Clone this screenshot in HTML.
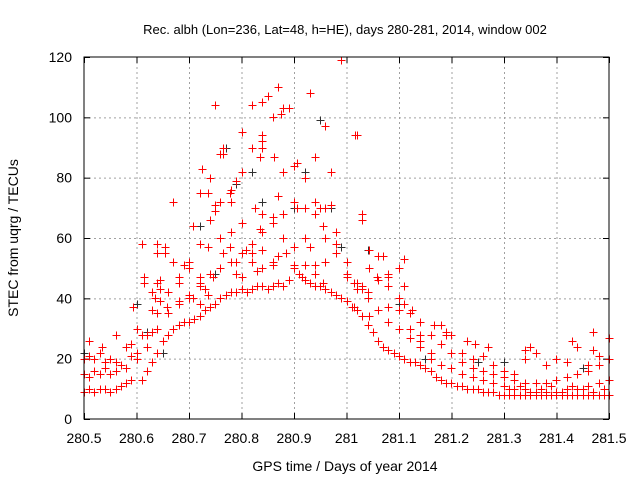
<!DOCTYPE html>
<html><head><meta charset="utf-8"><style>
body{margin:0;background:#fff;}
svg{display:block;font-family:"Liberation Sans",sans-serif;}
</style></head><body>
<svg id="chart" width="640" height="480" viewBox="0 0 640 480">
<rect width="640" height="480" fill="#fff"/>
<g id="grid"></g>
<g id="ticks"></g>
<g id="blackpts"></g>
<g id="redpts"></g>
<rect x="84" y="57" width="525" height="362" fill="none" stroke="#000" stroke-width="1"/>
<text x="345" y="34" text-anchor="middle" font-size="13" fill="#000">Rec. albh (Lon=236, Lat=48, h=HE), days 280-281, 2014, window 002</text>
<text x="345" y="471" text-anchor="middle" font-size="14" fill="#000">GPS time / Days of year 2014</text>
<text transform="translate(18,238) rotate(-90)" text-anchor="middle" font-size="14" fill="#000">STEC from uqrg / TECUs</text>
</svg>
<script>
const xTicks=[280.5,280.6,280.7,280.8,280.9,281,281.1,281.2,281.3,281.4,281.5];
const xTickLabels=["280.5","280.6","280.7","280.8","280.9","281","281.1","281.2","281.3","281.4","281.5"];
const yTicks=[0,20,40,60,80,100,120];
const yTickLabels=["0","20","40","60","80","100","120"];
const trackA=[[280.5,9],[280.51,10],[280.52,9],[280.53,10],[280.54,10],[280.55,9],[280.56,10],[280.57,11],[280.58,12],[280.59,13],[280.61,13],[280.62,16],[280.63,19],[280.64,22],[280.65,26],[280.66,28],[280.67,30],[280.68,31],[280.69,32],[280.7,32],[280.71,33],[280.72,34],[280.73,36],[280.74,37],[280.75,38],[280.76,40],[280.77,41],[280.78,42],[280.79,42],[280.8,43],[280.81,42],[280.82,43],[280.83,44],[280.84,44],[280.85,43],[280.86,44],[280.87,45],[280.88,44],[280.89,46],[280.9,50],[280.91,48],[280.92,46],[280.93,45],[280.94,44],[280.95,44],[280.96,43],[280.97,42],[280.98,41],[280.99,40],[281,39],[281.01,37],[281.02,36],[281.03,34],[281.04,31],[281.05,29],[281.06,26],[281.07,24],[281.08,23],[281.09,22],[281.1,21],[281.11,20],[281.12,19],[281.13,19],[281.14,18],[281.15,17],[281.16,16],[281.17,14],[281.18,13],[281.19,12],[281.2,12],[281.21,11],[281.22,11],[281.23,10],[281.24,10],[281.25,10],[281.26,9],[281.27,9],[281.28,9],[281.29,8],[281.3,8],[281.31,8],[281.32,8],[281.33,8],[281.34,8],[281.35,8],[281.36,8],[281.37,8],[281.38,8],[281.39,8],[281.4,8],[281.41,8],[281.42,8],[281.43,8],[281.44,8],[281.45,8],[281.46,8],[281.47,8],[281.48,8],[281.49,8],[281.5,8]];
const trackB=[[280.5,15],[280.51,14],[280.52,16],[280.53,15],[280.54,17],[280.55,15],[280.56,16],[280.57,18],[280.58,17],[280.6,20],[280.62,24],[280.64,30],[280.66,35],[280.68,38],[280.7,40],[280.72,44],[280.74,48],[280.76,50],[280.78,52],[280.8,55],[280.82,58],[280.84,62],[280.86,65],[280.88,68],[280.9,72],[280.92,70],[280.94,68],[280.96,60],[280.98,55],[281,47],[281.02,43],[281.04,40],[281.06,36],[281.08,32],[281.1,30],[281.12,27],[281.14,24],[281.16,20],[281.18,18],[281.2,17],[281.22,15],[281.24,14],[281.26,13],[281.28,12],[281.3,11],[281.32,10],[281.34,10],[281.36,9],[281.38,9],[281.4,9],[281.42,10],[281.44,10],[281.46,11],[281.48,12],[281.5,13]];
const trackC=[[280.5,20],[280.51,21],[280.52,20],[280.53,22],[280.54,19],[280.55,20],[280.56,19],[280.57,18],[280.59,21],[280.6,22],[280.62,28],[280.64,35],[280.66,42],[280.68,47],[280.7,52],[280.72,58],[280.74,66],[280.76,72],[280.78,76],[280.8,82],[280.82,90],[280.84,94],[280.86,100],[280.88,103],[280.9,84],[280.92,80],[280.94,72],[280.96,70],[280.98,62],[281,48],[281.02,45],[281.04,42],[281.06,46],[281.08,44],[281.1,40],[281.12,35],[281.14,32],[281.16,28],[281.18,25],[281.2,22],[281.22,19],[281.24,17],[281.26,16],[281.28,15],[281.3,14],[281.32,13],[281.34,12],[281.36,12],[281.38,12],[281.4,13],[281.42,14],[281.44,15],[281.46,16],[281.48,18],[281.5,20]];
const trackD=[[280.72,75],[280.74,80],[280.75,104],[280.76,88],[280.78,72],[280.8,95],[280.82,104],[280.84,105],[280.85,107],[280.87,110],[280.89,103],[280.93,108],[280.96,97],[280.99,119],[281.02,94],[280.97,82],[280.95,70],[280.92,60],[280.87,74],[280.84,68],[280.8,65],[280.78,62],[280.76,60],[280.51,26],[280.535,24],[280.56,28],[280.58,24],[280.59,25],[280.6,30],[280.61,28],[280.63,29],[280.615,47],[280.635,40],[280.655,55],[280.655,57],[280.64,45]];
const trackE=[[280.67,72],[280.7,50],[280.73,43],[280.79,48],[280.82,55],[280.84,50],[280.86,52],[280.88,60],[280.9,57],[280.92,51],[280.94,48],[280.96,52],[280.98,58],[281,52],[281.03,44],[281.06,54],[281.08,48],[281.1,36],[281.12,30],[281.14,26],[281.16,22],[281.18,31],[281.2,28],[281.22,22],[281.24,20],[281.26,21],[281.28,18],[281.3,16],[281.32,15],[281.34,20],[281.36,22],[281.38,18],[281.4,20],[281.42,19],[281.44,24],[281.46,18],[281.48,21],[281.5,27],[281.31,10],[281.33,11],[281.35,9],[281.37,10],[281.39,11],[281.41,9],[281.43,11],[281.45,10],[281.47,9],[281.49,10]];
const trackF=[[280.724,83],[280.765,90],[280.765,88],[280.736,75],[280.75,71],[280.75,69],[280.778,75],[280.79,79],[280.835,87],[280.84,92],[280.84,90],[280.862,87],[280.875,101],[280.88,82],[280.905,85],[280.94,87],[280.708,64],[280.736,57],[280.765,55],[280.778,57],[280.79,52],[280.808,56],[280.82,52],[280.84,56],[280.87,54],[280.885,55],[280.86,67],[280.825,70],[280.835,63],[280.905,70],[280.93,57],[280.955,64],[280.97,71],[280.61,58],[280.64,58],[280.64,55],[280.67,52],[280.69,51],[280.68,45],[280.72,47],[280.746,47],[280.8,47],[280.83,49],[280.86,51],[280.9,51],[280.915,47],[280.94,51],[280.955,45],[280.615,45],[280.63,42],[280.645,46],[280.645,43],[280.72,45],[280.736,41],[280.7,41],[280.594,37],[280.63,36],[280.645,39],[280.658,37],[280.68,39],[280.708,40],[280.72,38],[280.74,37]];
const trackG=[[281.016,94],[281.029,68],[281.029,66],[281.043,56],[281.069,54],[281.11,53],[281.1,50],[281.043,50],[281.058,47],[281.08,47],[281.08,44],[281.11,44],[281.015,45],[281.03,43],[281.015,37],[281.043,34],[281.08,37],[281.1,36],[281.11,38],[281.125,36],[281.167,31],[281.19,29],[281.19,28],[281.14,28],[281.14,26],[281.23,26],[281.245,25],[281.27,24],[281.34,23],[281.35,24],[281.43,26],[281.47,29],[281.47,23]];
const blackTrack=[[280.5,22],[280.51,26],[280.6,38],[280.62,29],[280.65,22],[280.72,64],[280.75,48],[280.77,90],[280.79,78],[280.82,82],[280.84,72],[280.86,67],[280.9,70],[280.92,82],[280.95,99],[280.97,70],[280.99,57],[281.03,66],[281.04,56],[281.1,38],[281.15,20],[281.25,19],[281.3,19],[281.4,20],[281.45,17]];

const NS="http://www.w3.org/2000/svg";
const L=84,R=609,T=57,B=419;
function xs(v){return L+(v-280.5)/(1)*(R-L);}
function ys(v){return B-(v/120)*(B-T);}
const grid=document.getElementById('grid'),ticks=document.getElementById('ticks');
function ln(p,x1,y1,x2,y2,st,dash){const l=document.createElementNS(NS,'line');l.setAttribute('x1',x1);l.setAttribute('y1',y1);l.setAttribute('x2',x2);l.setAttribute('y2',y2);l.setAttribute('stroke',st);if(dash)l.setAttribute('stroke-dasharray',dash);p.appendChild(l);return l;}
function tx(p,x,y,s,anchor){const t=document.createElementNS(NS,'text');t.setAttribute('x',x);t.setAttribute('y',y);t.setAttribute('text-anchor',anchor);t.setAttribute('font-size','14');t.textContent=s;p.appendChild(t);return t;}
xTicks.forEach((v,i)=>{const x=xs(v)+0.5;
 if(i>0&&i<xTicks.length-1){const g=ln(grid,x,T,x,B,'#a0a0a0','2,3');
 
 }
 const a=ln(ticks,x,B,x,B-6,'#000');
 const b=ln(ticks,x,T,x,T+6,'#000');
 const t=tx(ticks,xs(v),443,xTickLabels[i],'middle');
 
 });
yTicks.forEach((v,i)=>{const y=ys(v)+0.5;
 if(i>0&&i<yTicks.length-1){const g=ln(grid,L,y,R,y,'#a0a0a0','2,3');
 
 }
 const a=ln(ticks,L,y,L+6,y,'#000');
 const b=ln(ticks,R,y,R-6,y,'#000');
 const t=tx(ticks,L-12,ys(v)+5,yTickLabels[i],'end');
 
 });
function cross(g,p,color){const x=Math.round(xs(p[0]))+0.5,y=Math.round(ys(p[1]))+0.5;
 const pa=document.createElementNS(NS,'path');
 pa.setAttribute('d',`M${x-4} ${y}H${x+4}M${x} ${y-4}V${y+4}`);
 pa.setAttribute('stroke',color);pa.setAttribute('stroke-width','1');
 
 
 g.appendChild(pa);}
const bg=document.getElementById('blackpts');
blackTrack.forEach(p=>cross(bg,p,'#303030'));
const rg=document.getElementById('redpts');
[trackA,trackB,trackC,trackD,trackE,trackF,trackG].forEach(t=>t.forEach(p=>cross(rg,p,'#ff0000')));
</script>
</body></html>
